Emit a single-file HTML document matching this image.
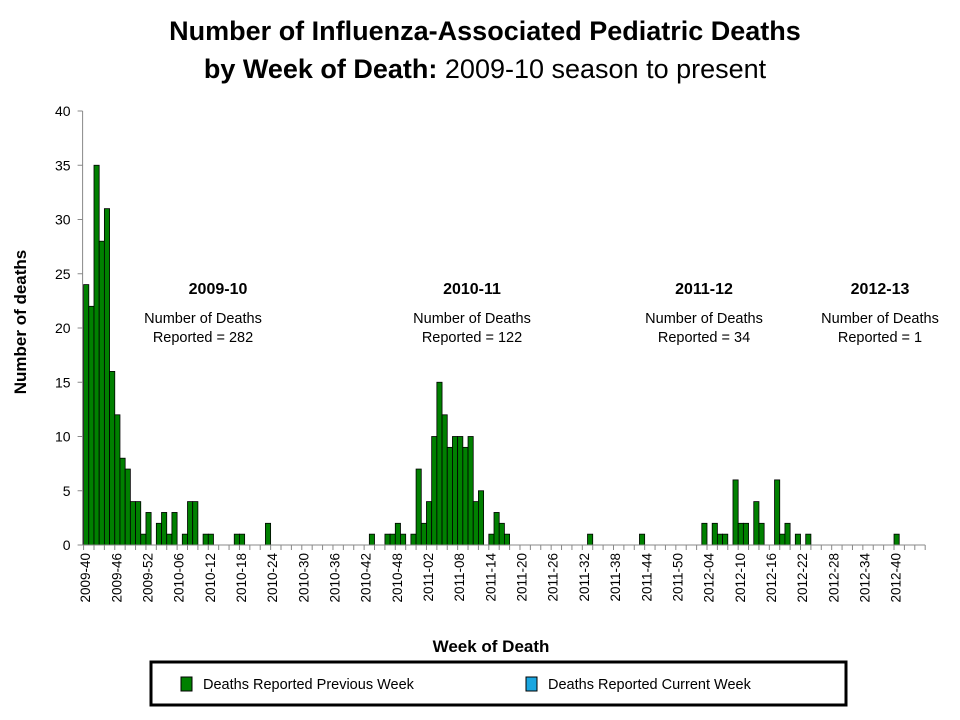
<!DOCTYPE html>
<html><head><meta charset="utf-8"><style>
html,body{margin:0;padding:0;background:#fff;}
svg{display:block;font-family:"Liberation Sans",Arial,sans-serif;}
</style></head><body>
<svg id="chart" width="960" height="720" viewBox="0 0 960 720">
<text x="485" y="40" text-anchor="middle" font-size="27" font-weight="bold">Number of Influenza-Associated Pediatric Deaths</text>
<text x="485" y="78" text-anchor="middle" font-size="27"><tspan font-weight="bold">by Week of Death:</tspan> 2009-10 season to present</text>
<text transform="translate(26,322) rotate(-90)" text-anchor="middle" font-size="17" font-weight="bold">Number of deaths</text>
<text x="491" y="652" text-anchor="middle" font-size="17" font-weight="bold">Week of Death</text>
<g id="yaxis"></g>
<g id="bars"></g>
<g id="xaxis"></g>
<g font-size="14.5" text-anchor="middle">
<text x="218" y="294" font-size="16" font-weight="bold">2009-10</text>
<text x="203" y="323">Number of Deaths</text><text x="203" y="342">Reported = 282</text></g>
<g font-size="14.5" text-anchor="middle">
<text x="472" y="294" font-size="16" font-weight="bold">2010-11</text>
<text x="472" y="323">Number of Deaths</text><text x="472" y="342">Reported = 122</text></g>
<g font-size="14.5" text-anchor="middle">
<text x="704" y="294" font-size="16" font-weight="bold">2011-12</text>
<text x="704" y="323">Number of Deaths</text><text x="704" y="342">Reported = 34</text></g>
<g font-size="14.5" text-anchor="middle">
<text x="880" y="294" font-size="16" font-weight="bold">2012-13</text>
<text x="880" y="323">Number of Deaths</text><text x="880" y="342">Reported = 1</text></g>
<g>
<rect x="151" y="662" width="695" height="43" fill="#fff" stroke="#000" stroke-width="3"/>
<rect x="181" y="677" width="11" height="14" fill="#008000" stroke="#000" stroke-width="1"/>
<text x="203" y="689" font-size="14.5">Deaths Reported Previous Week</text>
<rect x="526" y="677" width="11" height="14" fill="#1aa6e0" stroke="#000" stroke-width="1"/>
<text x="548" y="689" font-size="14.5">Deaths Reported Current Week</text>
</g>
</svg>
<script>
const weekIndex = [0,1,2,3,4,5,6,7,8,9,10,11,12,14,15,16,17,19,20,21,23,24,29,30,35,
 55,58,59,60,61,63,64,65,66,67,68,69,70,71,72,73,74,75,76,78,79,80,81,
 97,107,119,121,122,123,125,126,127,129,130,133,134,135,137,139,156];
const deaths = [24,22,35,28,31,16,12,8,7,4,4,1,3,2,3,1,3,1,4,4,1,1,1,1,2,
 1,1,1,2,1,1,7,2,4,10,15,12,9,10,10,9,10,4,5,1,3,2,1,
 1,1,2,2,1,1,6,2,2,4,2,6,1,2,1,1,1];
const yTicks = [0,5,10,15,20,25,30,35,40];
const xLabels = ["2009-40","2009-46","2009-52","2010-06","2010-12","2010-18","2010-24","2010-30","2010-36","2010-42","2010-48","2011-02","2011-08","2011-14","2011-20","2011-26","2011-32","2011-38","2011-44","2011-50","2012-04","2012-10","2012-16","2012-22","2012-28","2012-34","2012-40"];
const NS="http://www.w3.org/2000/svg";
const X0=83.6, W=5.195, NCAT=162, Y0=545, YTOP=111, YMAX=40;
function xs(i){return X0+i*W;}
function ys(v){return Y0-(v/YMAX)*(Y0-YTOP);}
function mk(tag,attrs,parent){const e=document.createElementNS(NS,tag);for(const k in attrs)e.setAttribute(k,attrs[k]);parent.appendChild(e);return e;}
const yg=document.getElementById('yaxis');
const yl=mk('line',{x1:X0-1,y1:YTOP,x2:X0-1,y2:Y0,stroke:'#888','stroke-width':1},yg);


yTicks.forEach(v=>{
 const t=mk('line',{x1:X0-6,y1:ys(v),x2:X0-1,y2:ys(v),stroke:'#888'},yg);
 
 
 const tx=mk('text',{x:X0-13,y:ys(v)+5,'text-anchor':'end','font-size':14},yg);
 tx.textContent=v;
 
 
});
const bg=document.getElementById('bars');
weekIndex.forEach((wi,k)=>{
 const v=deaths[k];
 const r=mk('rect',{x:xs(wi),y:ys(v),width:W,height:Y0-ys(v),fill:'#008000',stroke:'#000','stroke-width':0.8},bg);
 
 
});
const xg=document.getElementById('xaxis');
const xl=mk('line',{x1:X0-1,y1:Y0,x2:xs(NCAT),y2:Y0,stroke:'#888'},xg);


for(let i=0;i<=NCAT;i+=2){
 const t=mk('line',{x1:xs(i),y1:Y0,x2:xs(i),y2:Y0+5,stroke:'#888'},xg);
 
 
}
xLabels.forEach((lab,k)=>{
 const cx=xs(k*6)+W/2+4;
 const tx=mk('text',{transform:'translate('+cx+','+(Y0+8)+') rotate(-90)','text-anchor':'end','font-size':13.5},xg);
 tx.textContent=lab;
 
 
});
</script>
</body></html>
